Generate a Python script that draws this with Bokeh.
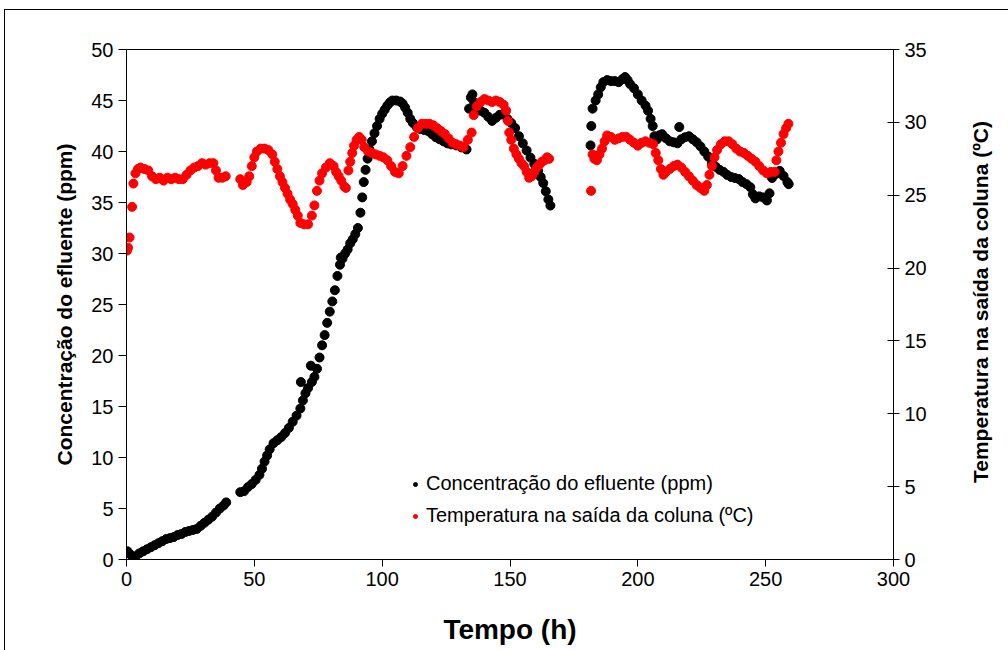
from bokeh.plotting import figure
from bokeh.models import Range1d, LinearAxis, FixedTicker, Legend, LegendItem, Div
from bokeh.layouts import row
from bokeh.embed import file_html
from bokeh.resources import INLINE

# ---- data ----
conc_t = [0.4, 1.5, 2.7, 3.5, 5, 6.5, 8, 9.5, 11, 12.5, 14, 15.5, 17, 18.5, 20, 21.5, 23, 24.5, 26, 27.5,
          29, 30.5, 32, 33.5, 35, 36.5, 38, 39,
          44.5, 46, 47.5, 49, 50.5, 52, 53, 54, 55, 56, 57.5, 59, 60.5, 62, 63.5, 65, 66.5, 68, 68.2, 69, 70,
          71, 72.1, 72.5, 73.5, 74.5, 75.5, 76.5, 77.5, 78.5, 79.5, 80.5, 81.5, 82.5, 83.5, 83.8, 84.5, 85.5,
          86.5, 87.5, 88.5, 89.5, 90.5, 91.5, 92.2, 92.8, 93.5, 94.3, 95, 96, 97, 98, 99, 100, 101, 102, 103,
          104, 105.5, 107, 108, 109, 110, 111, 112, 113.5, 115, 116.5, 118, 119.5, 121, 122.5, 124, 125.5,
          127, 129, 131, 133,
          134, 134.7, 135.3, 136, 137, 138.5, 140, 141.5, 143, 144.5, 146, 147.5, 149, 150.5, 152, 153.5,
          155, 156.5, 158, 159.5, 161, 162, 163, 164, 165, 165.8,
          181.5, 181.8, 182.3, 183.5, 184.5, 185.5, 186.5, 188, 189.5, 191, 192.5, 194, 195, 196, 197, 198.5,
          200, 201.5, 203, 204, 205, 205.8, 206.5, 207.5, 208.5, 209.5, 211, 212.5, 214, 215.5, 216.2, 217,
          218.5, 220, 221.5, 223, 224.5, 226, 227.5, 229, 230.5, 232, 233.5, 235, 236.5, 238, 239.5, 241,
          242.5, 244, 245, 246, 247.5, 249, 250.5, 251.5, 252.5, 254, 255.5, 257, 258.5, 259]
conc_ppm = [0.8, 0.5, 0.1, 0.3, 0.6, 0.8, 1.0, 1.2, 1.4, 1.6, 1.8, 2.0, 2.1, 2.2, 2.4, 2.5, 2.7, 2.8, 2.9, 3.0,
            3.3, 3.6, 3.9, 4.2, 4.6, 5.0, 5.3, 5.6,
            6.6, 6.7, 7.1, 7.4, 7.8, 8.3, 8.9, 9.6, 10.2, 10.8, 11.4, 11.7, 12.0, 12.4, 12.9, 13.5, 14.1, 14.8,
            17.4, 15.6, 16.3, 16.8, 19.0, 17.4, 17.9, 18.7, 19.8, 21.0, 22.0, 23.2, 24.3, 25.3, 26.4, 27.8,
            28.9, 29.6, 29.5, 30.0, 30.4, 31.0, 31.4, 31.9, 32.5, 34.0, 35.5, 37.0, 38.2, 39.3, 40.2, 41.0,
            41.8, 42.5, 43.2, 43.7, 44.1, 44.5, 44.8, 45.0, 45.0, 44.9, 44.7, 44.3, 43.8, 43.2, 42.8, 42.4,
            42.2, 42.1, 42.0, 41.7, 41.4, 41.2, 41.0, 40.8, 40.7, 40.6, 40.4, 40.2,
            44.2, 45.3, 45.6, 44.8, 44.3, 44.0, 43.8, 43.4, 43.0, 43.3, 43.6, 43.7, 43.2, 42.8, 42.3, 41.5,
            40.8, 40.1, 39.4, 38.8, 38.1, 37.5, 36.9, 36.1, 35.3, 34.7,
            40.6, 42.5, 44.2, 45.0, 45.6, 46.3, 46.8, 47.0, 46.9, 46.9, 46.8, 47.1, 47.3, 47.0, 46.6, 46.2,
            45.6, 45.0, 44.5, 44.0, 43.2, 42.5, 41.5, 41.2, 41.6, 41.7, 41.3, 41.0, 40.9, 40.8, 42.4, 41.2,
            41.4, 41.5, 41.2, 40.9, 40.5, 40.0, 39.5, 38.9, 38.5, 38.2, 38.0, 37.7, 37.5, 37.4, 37.3, 37.0,
            36.8, 36.5, 35.8, 35.4, 35.6, 35.5, 35.2, 35.9, 37.4, 37.8, 38.1, 37.6, 37.0, 36.8]

temp_t = [0.2, 0.6, 1.2, 2.2, 2.7, 3.5, 4.5, 5.5, 7, 8.5, 10, 11.5, 13, 14.5, 16, 17.5, 19, 20.5, 22, 23.5,
          25, 26.5, 28, 29.5, 31, 32.5, 34, 35, 36, 37.5, 38.8,
          44.5, 45.5, 47, 48, 49, 50, 51, 52.5, 54, 55.5, 57, 58, 59, 60, 61, 62, 63, 64, 65, 66, 67, 68,
          69.5, 71, 72.5, 73.5, 74.5, 75.5, 76.5, 78, 79.5, 81, 82, 83, 84, 85.2, 85.8,
          86.8, 87.5, 88.3, 89, 90, 91, 92, 93, 94.5, 96, 97.5, 99, 100.5, 102, 103.5, 105, 106.5, 108,
          109.5, 111, 112.5, 114, 115.5, 117, 118.5, 120, 121.5, 123, 124.5, 126, 127.5, 129, 130.5, 131.8,
          133.5, 135, 135.8, 137, 138.5, 140, 141.5, 143, 144.5, 146, 147.5, 148.5, 149.2, 149.7, 150.5,
          151.5, 152.5, 153.5, 154.5, 155.5, 156.5, 157.5, 158.5, 159.5, 160.5, 161.5, 162.5, 163.5, 164.5,
          165.3,
          181.7, 182.3, 183, 184, 185, 186, 187, 188, 189.5, 191, 192.5, 194, 195.5, 197, 198.5, 200, 201.5,
          203, 204.5, 206, 207, 208, 209, 210, 211, 212.5, 214, 215.5, 217, 218.5, 220, 221.5, 223, 224.5,
          226, 227, 228, 229, 230, 231, 232.5, 234, 235.5, 237, 238.5, 240, 241.5, 243, 244.5, 246, 247.5,
          249, 250.5, 252, 253.5, 254.2, 255, 256, 257, 258, 258.9]
temp_c = [21.2, 21.4, 22.1, 24.2, 25.8, 26.5, 26.8, 26.9, 26.8, 26.7, 26.3, 26.1, 26.2, 26.0, 26.2, 26.1,
          26.2, 26.1, 26.1, 26.4, 26.7, 26.9, 27.0, 27.2, 27.1, 27.2, 27.2, 26.7, 26.2, 26.2, 26.3,
          26.1, 25.7, 25.9, 26.3, 27.0, 27.6, 28.0, 28.2, 28.2, 28.1, 27.8, 27.3, 26.8, 26.3, 25.9, 25.5,
          25.1, 24.7, 24.4, 24.0, 23.6, 23.1, 23.0, 23.0, 23.6, 24.3, 25.3, 26.0, 26.5, 26.9, 27.2, 27.0,
          26.6, 26.3, 26.0, 25.6, 25.5,
          26.7, 27.3, 27.9, 28.4, 28.8, 29.0, 28.8, 28.3, 28.0, 27.9, 27.8, 27.7, 27.6, 27.4, 27.0, 26.6,
          26.5, 27.0, 27.7, 28.3, 29.0, 29.6, 29.9, 29.9, 29.9, 29.8, 29.6, 29.4, 29.2, 28.9, 28.6, 28.5,
          28.4, 28.3,
          28.8, 29.3, 30.5, 31.1, 31.4, 31.6, 31.5, 31.4, 31.5, 31.4, 31.2, 30.8, 30.1, 29.3, 28.8, 28.2,
          27.8, 27.5, 27.2, 27.0, 26.6, 26.2, 26.3, 26.6, 26.9, 27.1, 27.3, 27.4, 27.6, 27.5,
          25.3, 27.8, 27.5, 27.4, 27.8, 28.2, 28.7, 29.1, 29.0, 28.8, 28.9, 29.0, 29.0, 28.8, 28.6, 28.4,
          28.6, 28.7, 28.6, 28.5, 27.9, 27.4, 26.8, 26.4, 26.6, 26.8, 27.0, 27.1, 26.9, 26.6, 26.3, 26.0,
          25.7, 25.5, 25.3, 25.7, 26.4, 27.0, 27.6, 28.1, 28.5, 28.7, 28.7, 28.5, 28.2, 28.0, 27.9, 27.7,
          27.5, 27.3, 27.0, 26.7, 26.5, 26.6, 26.6, 27.4, 28.0, 28.6, 29.2, 29.6, 29.9]

x_ticks = [0, 50, 100, 150, 200, 250, 300]
left_ticks = [0, 5, 10, 15, 20, 25, 30, 35, 40, 45, 50]
right_ticks = [0, 5, 10, 15, 20, 25, 30, 35]
right_title_text = "Temperatura na saída da coluna (ºC)"

FONT = "Liberation Sans"

p = figure(width=940, height=640, output_backend="svg", toolbar_location=None,
           x_range=Range1d(0, 300), y_range=Range1d(0, 50),
           min_border_left=121, min_border_right=52, min_border_top=39, min_border_bottom=91)
p.extra_y_ranges = {"temp": Range1d(0, 35)}
p.grid.visible = False
p.outline_line_color = "black"
p.outline_line_width = 1
p.background_fill_color = "white"
p.border_fill_color = "white"


def style_axis(ax, label, label_size, standoff, tick_in, tick_out):
    if label:
        ax.axis_label = label
    ax.axis_label_text_font = FONT
    ax.axis_label_text_font_style = "bold"
    ax.axis_label_text_font_size = label_size
    ax.axis_label_text_color = "black"
    ax.axis_label_standoff = standoff
    ax.major_label_text_font = FONT
    ax.major_label_text_font_size = "20px"
    ax.major_label_text_color = "black"
    ax.major_label_standoff = 5
    ax.major_tick_in = tick_in
    ax.major_tick_out = tick_out
    ax.minor_tick_line_color = None
    ax.axis_line_color = "black"
    ax.major_tick_line_color = "black"


xa = p.xaxis[0]
xa.ticker = FixedTicker(ticks=x_ticks)
style_axis(xa, "Tempo (h)", "28px", 25, 0, 7)

ya = p.yaxis[0]
ya.ticker = FixedTicker(ticks=left_ticks)
style_axis(ya, "Concentração do efluente (ppm)", "21px", 12, 0, 8)

ra = LinearAxis(y_range_name="temp", ticker=FixedTicker(ticks=right_ticks))
style_axis(ra, None, "21px", 0, 6, 6)
p.add_layout(ra, "right")

r1 = p.scatter(conc_t, conc_ppm, size=9, color="black", marker="circle")
r2 = p.scatter(temp_t, temp_c, size=9, color="red", marker="circle", y_range_name="temp")

legend = Legend(items=[LegendItem(label="Concentração do efluente (ppm)", renderers=[r1]),
                       LegendItem(label="Temperatura na saída da coluna (ºC)", renderers=[r2])],
                location=(284, 32), orientation="vertical")
legend.border_line_color = None
legend.background_fill_alpha = 0
legend.label_text_font = FONT
legend.label_text_font_size = "20px"
legend.label_text_color = "black"
legend.glyph_width = 10
legend.glyph_height = 10
legend.spacing = 9
legend.label_standoff = 6
legend.padding = 0
legend.margin = 0
p.add_layout(legend, "center")

# right-axis title, reading bottom to top as in the reference
title_html = (
    '<div style="position:absolute; left:31px; top:287px; '
    'transform:translate(-50%,-50%) rotate(-90deg); white-space:nowrap; '
    f'font-family:\'{FONT}\'; font-weight:bold; font-size:21px; color:black;">'
    f'{right_title_text}</div>'
)
div = Div(text=title_html, width=63, height=640,
          styles={"position": "relative", "overflow": "visible", "background": "white"})

layout = row(p, div, spacing=0,
             styles={"margin-left": "4px", "margin-top": "9px",
                     "border-top": "1px solid black", "border-left": "1px solid black",
                     "background": "white"})

open("out.html", "w").write(file_html(layout, INLINE))
